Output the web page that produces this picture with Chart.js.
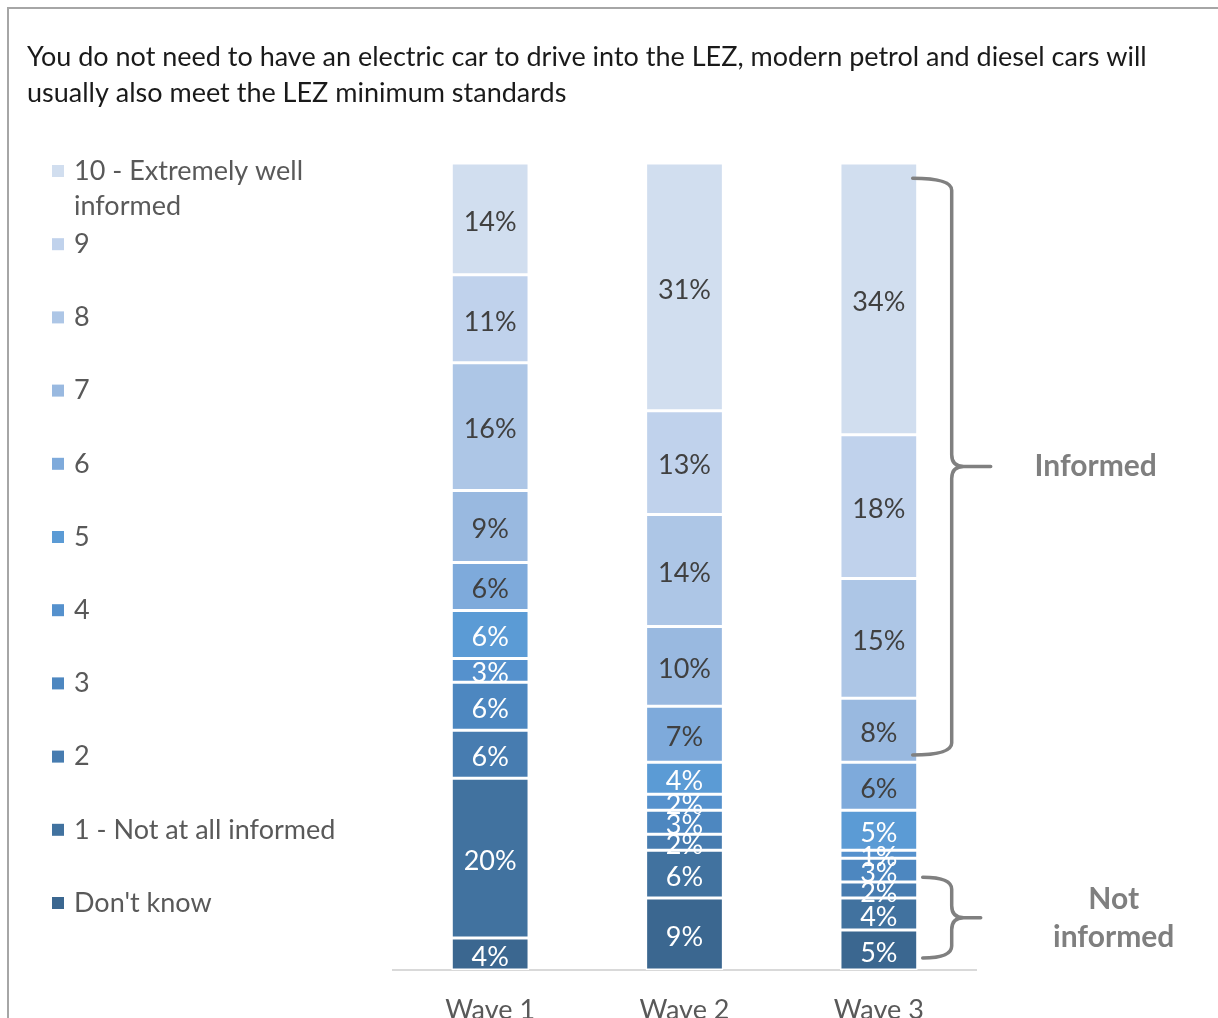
<!DOCTYPE html>
<html>
<head>
<meta charset="utf-8">
<script src="https://cdn.jsdelivr.net/npm/chart.js"></script>
<style>
  html, body { margin: 0; padding: 0; background: #fff; overflow: hidden; }
  #frame { position: absolute; left: 7px; top: 7px; width: 1400px; height: 1200px; border: 2px solid #a6a6a6; }
  canvas { position: absolute; left: 0; top: 0; }
</style>
</head>
<body>
<div id="frame"></div>
<canvas id="myChart" width="1218" height="1018"></canvas>
<script>
const titleLines = [
  'You do not need to have an electric car to drive into the LEZ, modern petrol and diesel cars will',
  'usually also meet the LEZ minimum standards'
];
const waves = ['Wave 1', 'Wave 2', 'Wave 3'];
// legend / series names, bottom of the stack first
const levels = ["Don't know", '1 - Not at all informed', '2', '3', '4', '5', '6', '7', '8', '9', '10 - Extremely well informed'];
const dontKnow = [4, 9, 5];
const score1 = [20, 6, 4];
const score2 = [6, 2, 2];
const score3 = [6, 3, 3];
const score4 = [3, 2, 1];
const score5 = [6, 4, 5];
const score6 = [6, 7, 6];
const score7 = [9, 10, 8];
const score8 = [16, 14, 15];
const score9 = [11, 13, 18];
const score10 = [14, 31, 34];
const seriesValues = [dontKnow, score1, score2, score3, score4, score5, score6, score7, score8, score9, score10];
const colors = ['#3b6790', '#41729f', '#477cb0', '#4d87c0', '#5591cd', '#5b9bd5', '#7eaadb', '#99b9e0', '#adc6e6', '#c0d2ec', '#d1deef'];

const FONT = 'Lato, "Open Sans", sans-serif';
const darkText = '#404040';
const grey = '#595959';

const datasets = seriesValues.map((vals, i) => ({
  label: levels[i],
  data: vals,
  backgroundColor: colors[i],
  borderColor: '#ffffff',
  borderWidth: 1.5,
  borderSkipped: false,
  barPercentage: 0.40,
  categoryPercentage: 1
}));

const wrapText = (ctx, text, maxWidth) => {
  const words = text.split(' ');
  const lines = [];
  let line = '';
  words.forEach(w => {
    const test = line ? line + ' ' + w : w;
    if (ctx.measureText(test).width > maxWidth && line) {
      lines.push(line);
      line = w;
    } else {
      line = test;
    }
  });
  lines.push(line);
  return lines;
};

// curly bracket pointing right
const drawBrace = (ctx, xTip, xLine, xPoint, yTop, yBottom) => {
  const yMid = (yTop + yBottom) / 2;
  const r = 12;
  ctx.beginPath();
  ctx.moveTo(xTip, yTop);
  ctx.quadraticCurveTo(xLine, yTop, xLine, yTop + r);
  ctx.lineTo(xLine, yMid - r);
  ctx.quadraticCurveTo(xLine, yMid, xLine + r, yMid);
  ctx.lineTo(xPoint, yMid);
  ctx.moveTo(xLine + r, yMid);
  ctx.quadraticCurveTo(xLine, yMid, xLine, yMid + r);
  ctx.lineTo(xLine, yBottom - r);
  ctx.quadraticCurveTo(xLine, yBottom, xTip, yBottom);
  ctx.stroke();
  return yMid;
};

const extras = {
  id: 'extras',
  afterDatasetsDraw(chart) {
    const ctx = chart.ctx;
    ctx.save();
    ctx.font = '27px ' + FONT;
    ctx.textAlign = 'center';
    ctx.textBaseline = 'middle';
    chart.data.datasets.forEach((ds, i) => {
      const meta = chart.getDatasetMeta(i);
      meta.data.forEach((bar, j) => {
        const p = bar.getProps(['x', 'y', 'base'], true);
        ctx.fillStyle = i <= 5 ? '#ffffff' : darkText;
        ctx.fillText(ds.data[j] + '%', p.x, (p.y + p.base) / 2 + 3);
      });
    });
    ctx.restore();
  },
  afterDraw(chart) {
    const ctx = chart.ctx;
    const y = chart.scales.y;
    ctx.save();

    // title
    ctx.fillStyle = '#1a1a1a';
    ctx.font = '27px ' + FONT;
    ctx.textAlign = 'left';
    ctx.textBaseline = 'middle';
    titleLines.forEach((t, k) => ctx.fillText(t, 27, 57 + k * 36));

    // legend, top item first
    ctx.font = '27px ' + FONT;
    for (let k = 0; k < levels.length; k++) {
      const i = levels.length - 1 - k;
      const rowY = 171 + k * 73.2;
      ctx.fillStyle = colors[i];
      ctx.fillRect(52, rowY - 6, 12, 12);
      ctx.fillStyle = grey;
      wrapText(ctx, levels[i], 270).forEach((line, n) => ctx.fillText(line, 74, rowY + n * 35));
    }

    // brackets on wave 3
    const bar3 = chart.getDatasetMeta(0).data[2];
    const right = bar3.x + bar3.width / 2;
    ctx.strokeStyle = '#808080';
    ctx.lineWidth = 3.5;
    ctx.lineCap = 'round';
    const midA = drawBrace(ctx, right - 5, right + 34, right + 73, y.getPixelForValue(99.1), y.getPixelForValue(26.9));
    const midB = drawBrace(ctx, right + 5, right + 34, right + 63, y.getPixelForValue(11.6), y.getPixelForValue(1.5));

    ctx.fillStyle = '#7f7f7f';
    ctx.font = 'bold 30px ' + FONT;
    ctx.textAlign = 'center';
    ctx.fillText('Informed', right + 178, midA);
    ctx.fillText('Not', right + 196, midB - 18);
    ctx.fillText('informed', right + 196, midB + 20);
    ctx.restore();
  }
};

new Chart(document.querySelector('#myChart').getContext('2d'), {
  type: 'bar',
  data: { labels: waves, datasets: datasets },
  options: {
    responsive: false,
    devicePixelRatio: 1,
    animation: false,
    layout: { padding: { top: 163, left: 393, right: 242, bottom: 0 } },
    plugins: {
      legend: { display: false },
      title: { display: false },
      tooltip: { enabled: false }
    },
    scales: {
      x: {
        stacked: true,
        grid: { display: false },
        border: { display: true, color: '#d9d9d9', width: 2 },
        ticks: { color: grey, font: { family: FONT, size: 27 }, padding: 16 },
        afterFit: scale => { scale.height = 48; }
      },
      y: {
        stacked: true,
        display: false,
        min: 0,
        max: 101
      }
    }
  },
  plugins: [extras]
});
</script>
</body>
</html>
